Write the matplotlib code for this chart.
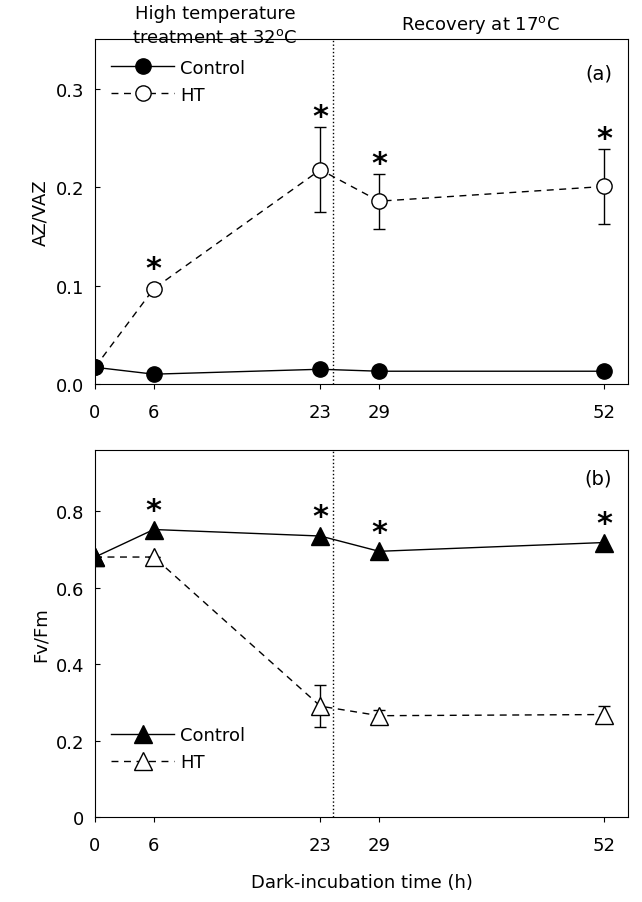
import matplotlib
matplotlib.use("Agg")
import matplotlib.pyplot as plt
from matplotlib.lines import Line2D

hours = [0, 6, 23, 29, 52]
az_control = [0.017, 0.010, 0.015, 0.013, 0.013]
az_ht = [0.017, 0.097, 0.218, 0.186, 0.201]
az_ht_err = [0, 0, 0.043, 0.028, 0.038]
az_star = [False, True, True, True, True]

fv_control = [0.68, 0.752, 0.735, 0.695, 0.718]
fv_ht = [0.68, 0.68, 0.29, 0.265, 0.268]
fv_ht_err = [0, 0, 0.055, 0.015, 0.022]
fv_star = [False, True, True, True, True]

plt.rcParams['font.family'] = 'DejaVu Sans'
plt.rcParams['font.size'] = 13
dash = (0, (5, 4))

fig = plt.figure(figsize=(6.42, 9.03), dpi=100)
ax1 = fig.add_axes([95/642, 1-385/903, 533/642, 345/903])
ax2 = fig.add_axes([95/642, 1-818/903, 533/642, 367/903])

# (a)
ax1.errorbar(hours, az_ht, yerr=az_ht_err, fmt='none', ecolor='black',
             capsize=4, elinewidth=1, zorder=2)
ax1.plot(hours, az_ht, 'o', ls=dash, color='black', mfc='white', ms=11, lw=1, zorder=3)
ax1.plot(hours, az_control, 'o-', color='black', ms=11, lw=1, zorder=4)
for h, v, e, s in zip(hours, az_ht, az_ht_err, az_star):
    if s:
        ax1.text(h, v + max(e, 0.01) - 0.004, '*', ha='center', va='bottom',
                 fontsize=22, fontweight='bold')
ax1.set_ylim(0, 0.351)
ax1.set_yticks([0.0, 0.1, 0.2, 0.3])
ax1.set_ylabel('AZ/VAZ')
ax1.legend([Line2D([], [], marker='o', color='black', ms=11, lw=1),
            Line2D([], [], marker='o', ls=dash, color='black', mfc='white', ms=11, lw=1)],
           ['Control', 'HT'], loc='upper left', frameon=False, handlelength=3.5,
           bbox_to_anchor=(0.0, 0.99), fontsize=13, handletextpad=0.3)
ax1.text(0.97, 0.93, '(a)', transform=ax1.transAxes, ha='right', va='top', fontsize=14)

# (b)
ax2.errorbar(hours, fv_ht, yerr=fv_ht_err, fmt='none', ecolor='black',
             capsize=4, elinewidth=1, zorder=2)
ax2.plot(hours, fv_ht, '^', ls=dash, color='black', mfc='white', ms=13, lw=1, zorder=3)
ax2.plot(hours, fv_control, '^-', color='black', ms=13, lw=1, zorder=4)
for h, v, s in zip(hours, fv_control, fv_star):
    if s:
        ax2.text(h, v + 0.012, '*', ha='center', va='bottom', fontsize=22, fontweight='bold')
ax2.set_ylim(0, 0.96)
ax2.set_yticks([0, 0.2, 0.4, 0.6, 0.8])
ax2.set_yticklabels(['0', '0.2', '0.4', '0.6', '0.8'])
ax2.set_ylabel('Fv/Fm')
ax2.legend([Line2D([], [], marker='^', color='black', ms=13, lw=1),
            Line2D([], [], marker='^', ls=dash, color='black', mfc='white', ms=13, lw=1)],
           ['Control', 'HT'], loc='lower left', frameon=False, handlelength=3.5,
           bbox_to_anchor=(0.0, 0.08), fontsize=13, handletextpad=0.3)
ax2.text(0.97, 0.95, '(b)', transform=ax2.transAxes, ha='right', va='top', fontsize=14)
ax2.set_xlabel('Dark-incubation time (h)', labelpad=14)

for ax in (ax1, ax2):
    ax.set_xlim(0, 54.4)
    ax.set_xticks(hours)
    ax.axvline(24.3, color='black', ls=':', lw=1)
    ax.tick_params(axis='y', direction='in', pad=8)
    ax.tick_params(axis='x', direction='out', pad=10)

fig.text(215/642, 1-26/903, 'High temperature\ntreatment at 32$^{\\rm o}$C', ha='center',
         va='center', fontsize=13, linespacing=1.4)
fig.text(480/642, 1-25/903, 'Recovery at 17$^{\\rm o}$C', ha='center', va='center', fontsize=13)

fig.savefig('out.png', dpi=100)
